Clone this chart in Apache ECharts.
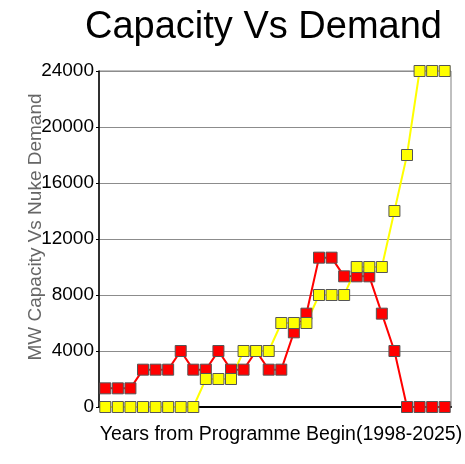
<!DOCTYPE html>
<html>
<head>
<meta charset="utf-8">
<script src="https://cdn.jsdelivr.net/npm/echarts@6/dist/echarts.min.js"></script>
<style>
  html, body { margin: 0; padding: 0; background: #fff; }
  #chart { width: 465px; height: 464px; }
</style>
</head>
<body>
<div id="chart"></div>
<script>
// years 1998 - 2025
const years = [];
for (let y = 1998; y <= 2025; y++) years.push(String(y));

// red series (nuke demand)
const demand = [1333, 1333, 1333, 2667, 2667, 2667, 4000, 2667, 2667, 4000,
  2667, 2667, 4000, 2667, 2667, 5333, 6667, 10667, 10667, 9333,
  9333, 9333, 6667, 4000, 0, 0, 0, 0];

// yellow series (capacity)
const capacity = [0, 0, 0, 0, 0, 0, 0, 0, 2000, 2000,
  2000, 4000, 4000, 4000, 6000, 6000, 6000, 8000, 8000, 8000,
  10000, 10000, 10000, 14000, 18000, 24000, 24000, 24000];

const chart = echarts.init(document.getElementById('chart'));

const option = {
  animation: false,
  title: {
    text: 'Capacity Vs Demand',
    left: 85,
    top: 9,
    padding: 0,
    textStyle: {
      fontFamily: 'Liberation Sans',
      fontSize: 38,
      fontWeight: 'normal',
      color: '#000'
    }
  },
  grid: {
    left: 99,
    right: 14,
    top: 71,
    bottom: 57,
    outerBoundsMode: 'none',
    containLabel: false,
    show: true,
    borderColor: '#808080',
    borderWidth: 1
  },
  xAxis: {
    type: 'category',
    data: years,
    boundaryGap: true,
    name: 'Years from Programme Begin(1998-2025)',
    nameLocation: 'middle',
    nameGap: 18,
    nameTextStyle: {
      fontFamily: 'Liberation Sans',
      fontSize: 19.5,
      color: '#000',
      padding: [0, 0, 0, 12]
    },
    axisLine: { lineStyle: { color: '#000', width: 2 } },
    axisTick: { show: false },
    axisLabel: { show: false }
  },
  yAxis: {
    type: 'value',
    min: 0,
    max: 24000,
    interval: 4000,
    name: 'MW Capacity Vs Nuke Demand',
    nameLocation: 'middle',
    nameGap: 54,
    nameMoveOverlap: false,
    nameTextStyle: {
      fontFamily: 'Liberation Sans',
      fontSize: 19,
      color: '#666',
      padding: [0, 0, 0, 24]
    },
    axisLine: { show: true, lineStyle: { color: '#000', width: 1.5 } },
    axisTick: { show: true, length: 3, lineStyle: { color: '#000' } },
    axisLabel: {
      fontFamily: 'Liberation Sans',
      fontSize: 19,
      color: '#000',
      margin: 5,
      formatter: v => String(v)
    },
    splitLine: { lineStyle: { color: '#8c8c8c', width: 1 } }
  },
  series: [
    {
      name: 'Demand',
      type: 'line',
      data: demand,
      symbol: 'rect',
      symbolSize: 11,
      showSymbol: true,
      showAllSymbol: true,
      lineStyle: { color: '#ff0000', width: 2 },
      itemStyle: { color: '#ff0000', borderColor: '#555', borderWidth: 1 }
    },
    {
      name: 'Capacity',
      type: 'line',
      data: capacity,
      symbol: 'rect',
      symbolSize: 11,
      showSymbol: true,
      showAllSymbol: true,
      lineStyle: { color: '#ffff00', width: 2 },
      itemStyle: { color: '#ffff00', borderColor: '#555', borderWidth: 1 }
    }
  ]
};

chart.setOption(option);
</script>
</body>
</html>
